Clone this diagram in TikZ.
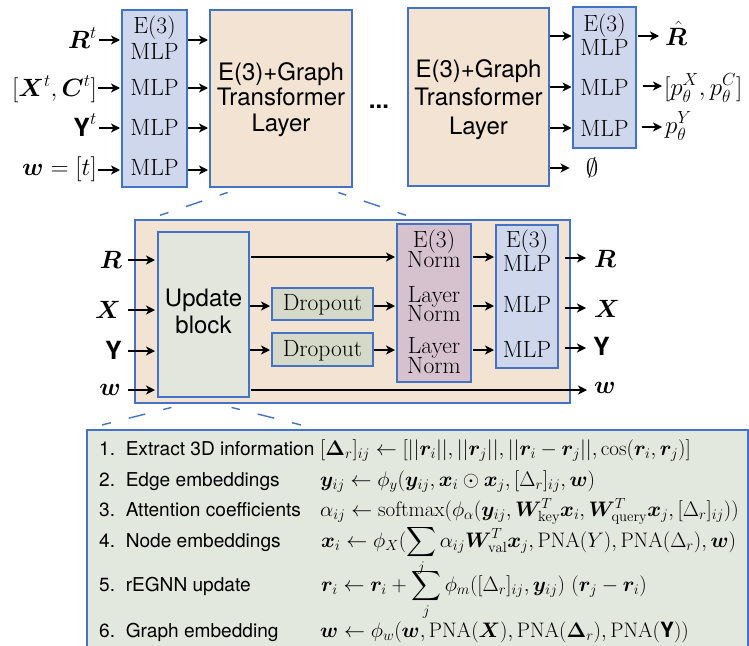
\RequirePackage{fix-cm}
\documentclass[tikz,border=0pt]{standalone}
\usepackage{amsmath}
\usepackage{fontspec}
\setsansfont{TeX Gyre Heros}
\usepackage{bm}
\usetikzlibrary{arrows.meta}
\newcommand{\sfYb}{\text{\sffamily\bfseries Y}}
\definecolor{bord}{HTML}{4472C4}
\definecolor{mlpfill}{HTML}{CFD7EC}
\definecolor{peach}{HTML}{F2E3D3}
\definecolor{updfill}{HTML}{E2E6DC}
\definecolor{dropfill}{HTML}{D5D9C8}
\definecolor{normfill}{HTML}{D6C2CF}
\definecolor{botfill}{HTML}{E3E8DF}
\begin{document}
\begin{tikzpicture}[x=1pt,y=-1pt,
  blk/.style={draw=bord,line width=1.4pt,inner sep=0pt,outer sep=0pt},
  tcm/.style={font=\fontsize{23.5}{27}\selectfont,inner sep=0pt,anchor=base},
  tsf/.style={font=\sffamily\fontsize{24}{28}\selectfont,inner sep=0pt,anchor=base},
  tml/.style={font=\fontsize{25}{29}\selectfont,inner sep=0pt},
  tbot/.style={font=\sffamily\fontsize{19.1}{22}\selectfont,inner sep=0pt,anchor=base west},
  tbm/.style={font=\fontsize{21}{24}\selectfont,inner sep=0pt,anchor=base west},
  arr/.style={-{Stealth[length=9pt,width=9pt,inset=2.5pt]},line width=1.5pt,black},
  zl/.style={draw=bord,line width=1.4pt,dash pattern=on 0pt off 14pt on 8.5pt off 18.5pt on 17pt off 18.5pt on 9pt off 40pt}
]
\useasboundingbox (0,0) rectangle (749,645);

% ---------- top row ----------
\node[blk,fill=mlpfill,minimum width=65pt,minimum height=177pt] (mlpA) at (154.5,98.5) {};
\node[blk,fill=peach,minimum width=142pt,minimum height=177pt] (trans1) at (281,98.5) {};
\node[blk,fill=peach,minimum width=141pt,minimum height=178pt] (trans2) at (478.5,97) {};
\node[blk,fill=mlpfill,minimum width=63pt,minimum height=141pt] (mlpB) at (604.5,77.5) {};

\node[tcm] (a1) at (154.5,33) {E(3)};
\node[tcm] (a2) at (154.5,59) {MLP};
\node[tcm] (a3) at (154.5,95) {MLP};
\node[tcm] (a4) at (154.5,135) {MLP};
\node[tcm] (a5) at (154.5,175) {MLP};

\node[tsf] (t1a) at (281,80) {E(3)+Graph};
\node[tsf] (t1b) at (281,105) {Transformer};
\node[tsf] (t1c) at (281,131) {Layer};
\node[tsf] (t2a) at (478.5,77) {E(3)+Graph};
\node[tsf] (t2b) at (478.5,105) {Transformer};
\node[tsf] (t2c) at (478.5,134) {Layer};
\node[tsf,font=\sffamily\bfseries\fontsize{24}{28}\selectfont] (dots) at (379,108) {...};

\node[tcm] (b1) at (604.5,31) {E(3)};
\node[tcm] (b2) at (604.5,55) {MLP};
\node[tcm] (b3) at (604.5,95) {MLP};
\node[tcm] (b4) at (604.5,136) {MLP};

% left input labels
\node[tml,anchor=base east] (lRt) at (97,48) {$\bm{R}^t$};
\node[tml,anchor=base east] (lXC) at (97,96) {$[\bm{X}^t,\bm{C}^t]$};
\node[tml,anchor=base east] (lYt) at (97,136) {$\sfYb^t$};
\node[tml,anchor=base east] (lwt) at (97,175) {$\bm{w}=[t]$};

\draw[arr,shorten <=2pt,shorten >=2pt] (lRt.east |- 0,40) -- (mlpA.west |- 0,40);
\draw[arr,shorten <=1pt,shorten >=2pt] (lXC.east |- 0,88) -- (mlpA.west |- 0,88);
\draw[arr,shorten <=2pt,shorten >=2pt] (lYt.east |- 0,128) -- (mlpA.west |- 0,128);
\draw[arr,shorten <=1pt,shorten >=2pt] (lwt.east |- 0,170) -- (mlpA.west |- 0,170);

\foreach \yy in {40,88,128,170}{
  \draw[arr,shorten <=1pt,shorten >=2pt] (mlpA.east |- 0,\yy) -- (trans1.west |- 0,\yy);
}
\foreach \yy in {36,87,128}{
  \draw[arr,shorten <=1pt,shorten >=1.5pt] (trans2.east |- 0,\yy) -- (mlpB.west |- 0,\yy);
}

% right outputs
\node[tml,anchor=base west] (lRh) at (665,45) {$\hat{\bm{R}}$};
\node[tml,anchor=base west] (lpXC) at (664,95) {$[p_\theta^X,p_\theta^C]$};
\node[tml,anchor=base west] (lpY) at (665,133) {$p_\theta^Y$};
\node[tml,anchor=center] (lEmp) at (592,168) {$\emptyset$};

\draw[arr,shorten <=2pt,shorten >=6pt] (mlpB.east |- 0,36) -- (lRh.west |- 0,36);
\draw[arr,shorten <=7pt,shorten >=2pt] (mlpB.east |- 0,86) -- (lpXC.west |- 0,86);
\draw[arr,shorten <=6pt,shorten >=3pt] (mlpB.east |- 0,127) -- (lpY.west |- 0,127);
\draw[arr,shorten <=1pt,shorten >=16pt] (trans2.east |- 0,168) -- (lEmp.west |- 0,168);

% ---------- middle block ----------
\node[blk,fill=peach,minimum width=435pt,minimum height=183pt] (mid) at (352.5,311.5) {};
\node[blk,fill=updfill,minimum width=91pt,minimum height=165pt] (upd) at (203.5,314.5) {};
\node[blk,fill=dropfill,minimum width=101pt,minimum height=32pt] (drop1) at (322.5,304) {};
\node[blk,fill=dropfill,minimum width=101pt,minimum height=33pt] (drop2) at (322.5,349.5) {};
\node[blk,fill=normfill,minimum width=74pt,minimum height=158pt] (norm) at (434,303) {};
\node[blk,fill=mlpfill,minimum width=62pt,minimum height=143pt] (mlpM) at (527,296.5) {};

\node[tsf] (u1) at (203.5,306) {Update};
\node[tsf] (u2) at (203.5,333) {block};
\node[tcm] (d1) at (322.5,310) {Dropout};
\node[tcm] (d2) at (322.5,356) {Dropout};
\node[tcm] (n1) at (434,247) {E(3)};
\node[tcm] (n2) at (434,267) {Norm};
\node[tcm] (n3) at (434,302) {Layer};
\node[tcm] (n4) at (434,321) {Norm};
\node[tcm] (n5) at (434,353) {Layer};
\node[tcm] (n6) at (434,373) {Norm};
\node[tcm] (m1) at (527,247) {E(3)};
\node[tcm] (m2) at (527,271) {MLP};
\node[tcm] (m3) at (527,312) {MLP};
\node[tcm] (m4) at (527,357) {MLP};

\node[tml,anchor=base east] (lR2) at (122,268) {$\bm{R}$};
\node[tml,anchor=base east] (lX2) at (121,318) {$\bm{X}$};
\node[tml,anchor=base east] (lY2) at (122,359) {$\sfYb$};
\node[tml,anchor=base east] (lw2) at (121,395) {$\bm{w}$};

\draw[arr,shorten <=6pt,shorten >=3pt] (lR2.east |- 0,260) -- (upd.west |- 0,260);
\draw[arr,shorten <=7pt,shorten >=3pt] (lX2.east |- 0,310) -- (upd.west |- 0,310);
\draw[arr,shorten <=6pt,shorten >=3pt] (lY2.east |- 0,351) -- (upd.west |- 0,351);
\draw[arr,shorten <=7pt,shorten >=3pt] (lw2.east |- 0,390) -- (upd.west |- 0,390);

\draw[arr,shorten <=2pt,shorten >=2pt] (upd.east |- 0,257) -- (norm.west |- 0,257);
\draw[arr,shorten <=1pt,shorten >=2pt] (upd.east |- 0,306) -- (drop1.west |- 0,306);
\draw[arr,shorten <=1pt,shorten >=2pt] (upd.east |- 0,350) -- (drop2.west |- 0,350);
\draw[arr,shorten <=1pt,shorten >=2pt] (drop1.east |- 0,306) -- (norm.west |- 0,306);
\draw[arr,shorten <=1pt,shorten >=2pt] (drop2.east |- 0,350) -- (norm.west |- 0,350);
\foreach \yy in {257,306,350}{
  \draw[arr,shorten <=2pt,shorten >=2pt] (norm.east |- 0,\yy) -- (mlpM.west |- 0,\yy);
}

\node[tml,anchor=base west] (lR3) at (594,267) {$\bm{R}$};
\node[tml,anchor=base west] (lX3) at (594,317) {$\bm{X}$};
\node[tml,anchor=base west] (lY3) at (593,355) {$\sfYb$};
\node[tml,anchor=base west] (lw3) at (594,393) {$\bm{w}$};

\draw[arr,shorten <=7pt,shorten >=8pt] (mlpM.east |- 0,258) -- (lR3.west |- 0,258);
\draw[arr,shorten <=7pt,shorten >=8pt] (mlpM.east |- 0,308) -- (lX3.west |- 0,308);
\draw[arr,shorten <=7pt,shorten >=7pt] (mlpM.east |- 0,348) -- (lY3.west |- 0,348);
\draw[arr,shorten <=2pt,shorten >=7pt] (upd.east |- 0,390) -- (lw3.west |- 0,390);

% zoom lines
\coordinate (zA1) at (241,188);
\coordinate (zA2) at (146,220);
\coordinate (zB1) at (325,188);
\coordinate (zB2) at (420,220);
\draw[zl] (zA1) -- (zA2);
\draw[zl] (zB1) -- (zB2);

% ---------- bottom box ----------
\node[blk,fill=botfill,minimum width=661pt,minimum height=225pt,anchor=north west] (expl) at (87,430) {};
\coordinate (zC1) at (185,404);
\coordinate (zC2) at (90,428);
\coordinate (zD1) at (218,404);
\coordinate (zD2) at (313,428);
\draw[zl] (zC1) -- (zC2);
\draw[zl] (zD1) -- (zD2);

\node[tbot] (s1) at (99,455) {1.\ \ Extract 3D information};
\node[tbot] (s2) at (99,486) {2.\ \ Edge embeddings};
\node[tbot] (s3) at (99,516) {3.\ \ Attention coefficients};
\node[tbot] (s4) at (99,547) {4.\ \ Node embeddings};
\node[tbot] (s5) at (99,591) {5.\ \ rEGNN update};
\node[tbot] (s6) at (99,637) {6.\ \ Graph embedding};

\node[tbm] (f1) at (320,455) {$[\bm{\Delta}_r]_{ij} \leftarrow [||\bm{r}_i||, ||\bm{r}_j||, ||\bm{r}_i-\bm{r}_j||, \cos(\bm{r}_i,\bm{r}_j)]$};
\node[tbm] (f2) at (320,486) {$\bm{y}_{ij} \leftarrow \phi_y(\bm{y}_{ij}, \bm{x}_i\odot\bm{x}_j, [\Delta_r]_{ij}, \bm{w})$};
\node[tbm] (f3) at (320,516) {$\alpha_{ij} \leftarrow \mathrm{softmax}(\phi_\alpha(\bm{y}_{ij}, \bm{W}_{\mathrm{key}}^T\bm{x}_i, \bm{W}_{\mathrm{query}}^T\bm{x}_j, [\Delta_r]_{ij}))$};
\node[tbm] (f4) at (321,547) {$\bm{x}_i \leftarrow \phi_X(\displaystyle\sum_j \alpha_{ij}\bm{W}_{\mathrm{val}}^T\bm{x}_j, \mathrm{PNA}(Y), \mathrm{PNA}(\Delta_r), \bm{w})$};
\node[tbm] (f5) at (321,591) {$\bm{r}_i \leftarrow \bm{r}_i + \displaystyle\sum_j \phi_m([\Delta_r]_{ij}, \bm{y}_{ij})\ (\bm{r}_j-\bm{r}_i)$};
\node[tbm] (f6) at (320,637) {$\bm{w} \leftarrow \phi_w(\bm{w}, \mathrm{PNA}(\bm{X}), \mathrm{PNA}(\bm{\Delta}_r), \mathrm{PNA}(\sfYb))$};
\end{tikzpicture}
\end{document}
